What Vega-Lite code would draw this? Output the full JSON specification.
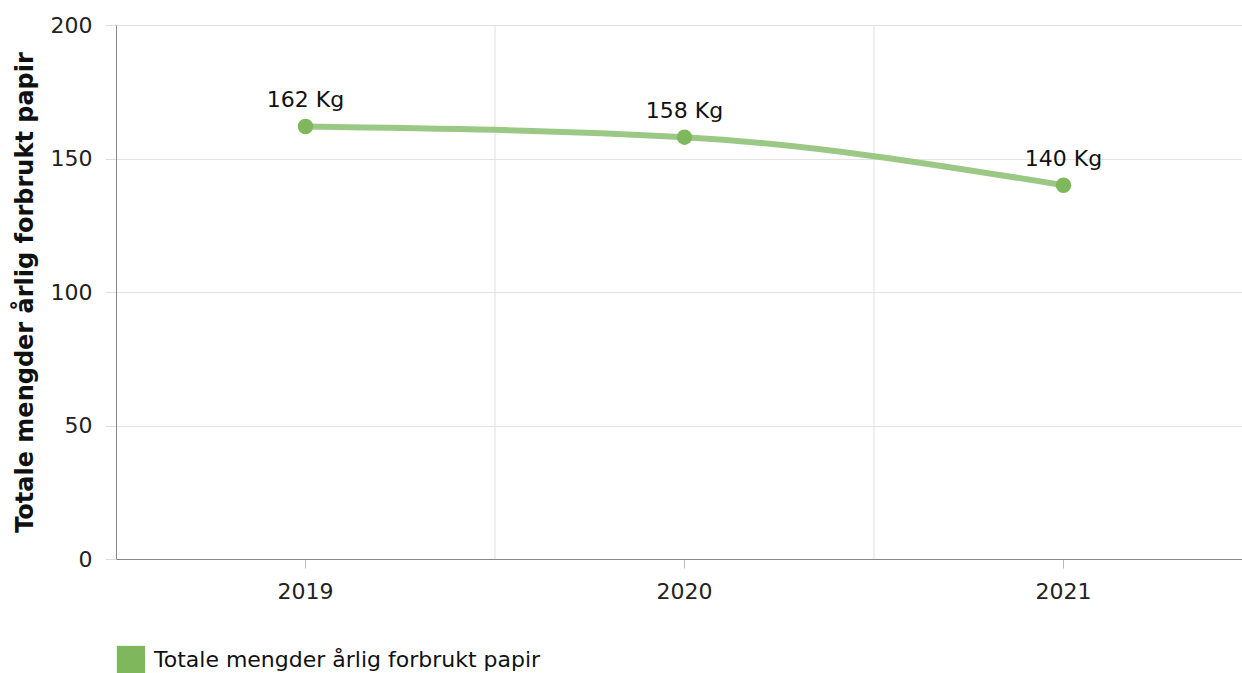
{
  "$schema": "https://vega.github.io/schema/vega-lite/v6.json",
  "width": 1137,
  "height": 534,
  "autosize": {"type": "none"},
  "padding": {"left": 116, "top": 25, "right": 0, "bottom": 114},
  "background": "white",
  "config": {
    "font": "DejaVu Sans",
    "view": {"stroke": null},
    "axis": {"labelFont": "DejaVu Sans", "titleFont": "DejaVu Sans"}
  },
  "data": {
    "values": [
      {"year": "2019", "value": 162, "label": "162 Kg", "series": "Totale mengder årlig forbrukt papir"},
      {"year": "2020", "value": 158, "label": "158 Kg", "series": "Totale mengder årlig forbrukt papir"},
      {"year": "2021", "value": 140, "label": "140 Kg", "series": "Totale mengder årlig forbrukt papir"}
    ]
  },
  "encoding": {
    "x": {
      "field": "year",
      "type": "ordinal",
      "scale": {"paddingInner": 0, "paddingOuter": 0},
      "axis": {
        "title": null,
        "labelAngle": 0,
        "labelFontSize": 22,
        "labelColor": "#222",
        "labelPadding": 13,
        "tickSize": 9,
        "tickColor": "#bbb",
        "domainColor": "#888",
        "grid": false
      }
    },
    "y": {
      "field": "value",
      "type": "quantitative",
      "scale": {"domain": [0, 200]},
      "axis": {
        "title": "Totale mengder årlig forbrukt papir",
        "titleFontSize": 24,
        "titleFontWeight": "bold",
        "titleColor": "#111",
        "titlePadding": 13,
        "values": [0, 50, 100, 150, 200],
        "labelFontSize": 22,
        "labelColor": "#222",
        "labelPadding": 13,
        "tickSize": 11,
        "tickColor": "#ddd",
        "gridColor": "#e3e3e3",
        "domainColor": "#888"
      }
    }
  },
  "layer": [
    {
      "mark": {"type": "rule", "color": "#e0e0e0", "strokeWidth": 1},
      "data": {"values": [{"year": "2020"}, {"year": "2021"}]},
      "encoding": {
        "x": {"field": "year", "type": "ordinal", "bandPosition": 0},
        "y": {"value": 0},
        "y2": {"value": 534}
      }
    },
    {
      "mark": {"type": "line", "interpolate": "monotone", "strokeWidth": 6, "color": "#9bc985", "strokeCap": "round"},
      "encoding": {}
    },
    {
      "mark": {"type": "point", "filled": true, "opacity": 1, "size": 240, "shape": "circle"},
      "encoding": {
        "color": {
          "field": "series",
          "type": "nominal",
          "scale": {"range": ["#7fb75c"]},
          "legend": {
            "title": null,
            "orient": "none",
            "legendX": 0,
            "legendY": 620,
            "symbolType": "square",
            "symbolSize": 800,
            "symbolOpacity": 1,
            "labelFontSize": 22,
            "labelLimit": 0,
            "labelColor": "#111",
            "labelOffset": 8
          }
        }
      }
    },
    {
      "mark": {"type": "text", "dy": -26, "fontSize": 22, "color": "#111"},
      "encoding": {"text": {"field": "label"}}
    }
  ]
}
